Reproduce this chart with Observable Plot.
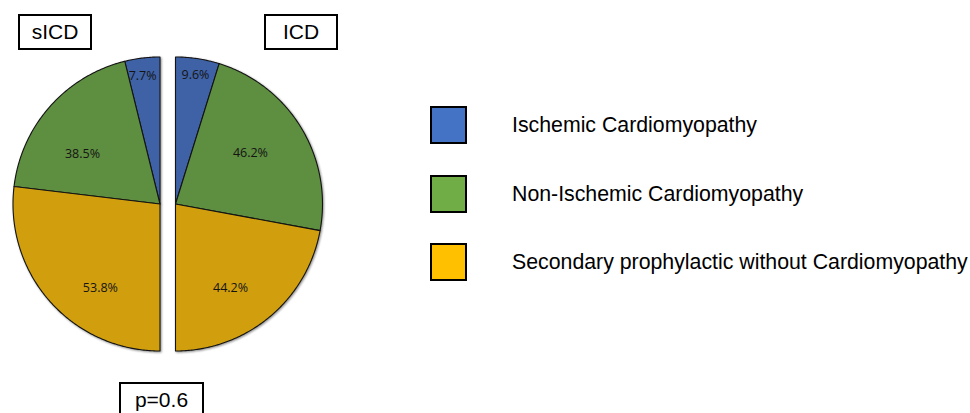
<!DOCTYPE html>
<html><head><meta charset="utf-8">
<script src="https://cdn.jsdelivr.net/npm/d3@7"></script>
<script src="https://cdn.jsdelivr.net/npm/@observablehq/plot@0.6"></script>
<style>
html,body{margin:0;padding:0;background:#fff;overflow:hidden;}
#wrap{position:relative;width:970px;height:413px;font-family:"Liberation Sans",Arial,sans-serif;color:#000;}
#wrap svg{position:absolute;left:0;top:0;}
#wrap svg g[aria-label="line"]{filter:drop-shadow(1.5px 1.5px 1px rgba(0,0,0,0.45));}
.box{position:absolute;border:2px solid #000;box-sizing:border-box;display:flex;align-items:center;justify-content:center;font-size:21px;background:#fff;}
.sw{position:absolute;left:430px;width:37px;height:38px;border:2.5px solid #000;box-sizing:border-box;}
.lt{position:absolute;left:512px;font-size:21.3px;line-height:38px;height:38px;white-space:nowrap;}
</style></head><body><div id="wrap"></div>
<script>
// ---- data ----
const groups = ["sICD", "ICD"];
const categories = ["Ischemic Cardiomyopathy", "Non-Ischemic Cardiomyopathy", "Secondary prophylactic without Cardiomyopathy"];
const sicdShares = [7.7, 38.5, 53.8];
const icdShares = [9.6, 46.2, 44.2];
const pValueText = "p=0.6";
const pieColors = ["#3f62a6", "#5e8e40", "#d19f0d"];
const legendColors = ["#4472C4", "#70AD47", "#FFC000"];

// ---- layout (pixels / placement tweaks) ----
const W = 970, H = 413, R = 147, cxMid = 167.25, halfGap = 7.75, cy = 203.5;
const xMin = -cxMid / R, xMax = (W - cxMid) / R;
const yMax = cy / R, yMin = -(H - cy) / R;
const gap = halfGap / R;
const labelRadius = [[0.88, 0.626, 0.703], [0.885, 0.615, 0.686]];
const labelAngleNudge = [[0.8, 8.9, 13.2], [0.2, -2.9, 6.7]]; // degrees

const sides = [
  {group: groups[0], shares: sicdShares, dir: -1},
  {group: groups[1], shares: icdShares, dir: 1}
];
const slicePts = [], labels = [];
sides.forEach((s, si) => {
  const ox = s.dir * gap;
  let acc = 0;
  s.shares.forEach((v, i) => {
    const a0 = acc / 100 * Math.PI, a1 = (acc + v) / 100 * Math.PI;
    acc += v;
    const key = s.group + "|" + i, category = categories[i];
    const n = Math.max(2, Math.ceil((a1 - a0) / 0.01));
    slicePts.push({key, category, x: ox, y: 0});
    for (let k = 0; k <= n; k++) {
      const a = a0 + (a1 - a0) * k / n;
      slicePts.push({key, category, x: ox + s.dir * Math.sin(a), y: Math.cos(a)});
    }
    slicePts.push({key, category, x: ox, y: 0});
    const am = (a0 + a1) / 2 + labelAngleNudge[si][i] * Math.PI / 180, lr = labelRadius[si][i];
    labels.push({x: ox + s.dir * lr * Math.sin(am), y: lr * Math.cos(am), text: v.toFixed(1) + "%"});
  });
});

const plot = Plot.plot({
  width: W, height: H, margin: 0,
  x: {domain: [xMin, xMax], axis: null},
  y: {domain: [yMin, yMax], axis: null},
  color: {domain: categories, range: pieColors},
  style: {background: "transparent"},
  marks: [
    Plot.line(slicePts, {x: "x", y: "y", z: "key", fill: "category", stroke: "#141414", strokeWidth: 1.1, curve: "linear"}),
    Plot.text(labels, {x: "x", y: "y", text: "text", fontSize: 12.5, fill: "#141414", fontFamily: "'Open Sans', sans-serif"})
  ]
});
const wrap = document.getElementById("wrap");
wrap.appendChild(plot);

function box(text, left, top, w, h) {
  const d = document.createElement("div");
  d.className = "box";
  d.style.left = left + "px"; d.style.top = top + "px";
  d.style.width = w + "px"; d.style.height = h + "px";
  d.textContent = text;
  wrap.appendChild(d);
}
box(groups[0], 18, 14, 74, 36);
box(groups[1], 264, 14, 74, 36);
box(pValueText, 119, 382, 85, 36);

categories.forEach((c, i) => {
  const top = 106 + i * 68.5;
  const sw = document.createElement("div");
  sw.className = "sw"; sw.style.top = top + "px"; sw.style.background = legendColors[i];
  wrap.appendChild(sw);
  const t = document.createElement("div");
  t.className = "lt"; t.style.top = top + "px"; t.textContent = c;
  wrap.appendChild(t);
});
</script></body></html>
